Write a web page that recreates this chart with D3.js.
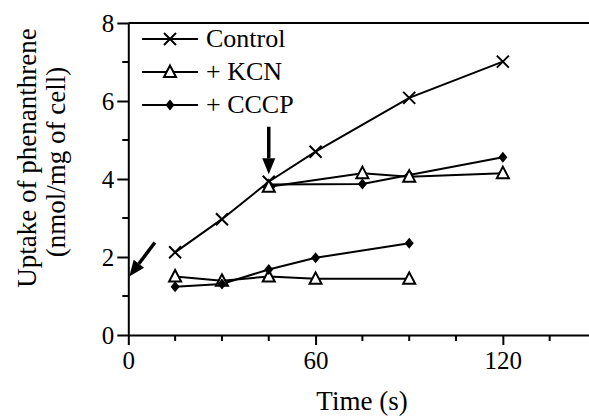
<!DOCTYPE html>
<html>
<head>
<meta charset="utf-8">
<script src="https://cdn.jsdelivr.net/npm/d3@7"></script>
<style>
  body { margin: 0; background: #fff; }
</style>
</head>
<body>
<script>
// data
var controlTime = [15, 30, 45, 60, 90, 120];
var controlUptake = [2.12, 2.97, 3.93, 4.70, 6.08, 7.01];

var kcnEarlyTime = [15, 30, 45, 60, 90];
var kcnEarlyUptake = [1.50, 1.39, 1.50, 1.44, 1.44];
var kcnLateTime = [45, 75, 90, 120];
var kcnLateUptake = [3.80, 4.15, 4.06, 4.15];

var cccpEarlyTime = [15, 30, 45, 60, 90];
var cccpEarlyUptake = [1.24, 1.31, 1.68, 1.98, 2.35];
var cccpLateTime = [45, 75, 90, 120];
var cccpLateUptake = [3.86, 3.87, 4.10, 4.56];

var xMajorTicks = [0, 60, 120];
var xMinorTicks = [15, 30, 45, 75, 90, 105, 135];
var yMajorTicks = [0, 2, 4, 6, 8];
var yMinorTicks = [1, 3, 5, 7];

var legendLabels = ["Control", "+ KCN", "+ CCCP"];

// arrows (time, uptake) tail -> tip
var arrows = [
    {x1: 45, y1: 5.34, x2: 45, y2: 4.12},
    {x1: 8.5, y1: 2.37, x2: 0.3, y2: 1.5}
];

var serif = "Liberation Serif";
var width = 589, height = 416;
var svg = d3.select("body").append("svg")
    .attr("width", width)
    .attr("height", height)
    .attr("font-family", serif);

var x = d3.scaleLinear().domain([0, 147.6]).range([128.3, 589]);
var y = d3.scaleLinear().domain([0, 8]).range([335, 23]);

var zip = function(ts, vs){
    return ts.map(function(t, i){ return {t: t, v: vs[i]}; });
};

// frame top line
svg.append("line")
    .attr("x1", x(0)).attr("x2", width)
    .attr("y1", y(8)).attr("y2", y(8))
    .style("stroke", "#000").style("stroke-width", 2);

// x axis
var xAxis = svg.append("g").attr("transform", "translate(0," + y(0) + ")");
xAxis.call(d3.axisBottom(x).tickValues(xMajorTicks).tickSize(10).tickSizeOuter(0).tickPadding(6));
svg.append("g").selectAll("line").data(xMinorTicks).enter().append("line")
    .attr("x1", function(d){ return x(d); }).attr("x2", function(d){ return x(d); })
    .attr("y1", y(0)).attr("y2", y(0) + 6)
    .style("stroke", "#000").style("stroke-width", 2);

// y axis
var yAxis = svg.append("g").attr("transform", "translate(" + x(0) + ",0)");
yAxis.call(d3.axisLeft(y).tickValues(yMajorTicks).tickSize(11).tickSizeOuter(0).tickPadding(3));
svg.append("g").selectAll("line").data(yMinorTicks).enter().append("line")
    .attr("x1", x(0) - 6).attr("x2", x(0))
    .attr("y1", function(d){ return y(d); }).attr("y2", function(d){ return y(d); })
    .style("stroke", "#000").style("stroke-width", 2);

svg.selectAll(".domain").style("stroke-width", 2);
svg.selectAll(".tick line").style("stroke-width", 2);
xAxis.attr("font-family", serif).attr("font-size", 25);
yAxis.attr("font-family", serif).attr("font-size", 25);
svg.selectAll(".tick text")
    .attr("font-family", serif)
    .attr("font-size", 25)
    .attr("fill", "#000");

// axis titles
svg.append("text")
    .attr("x", 362).attr("y", 410)
    .attr("text-anchor", "middle")
    .attr("font-family", serif)
    .attr("font-size", 27)
    .attr("fill", "#000")
    .text("Time (s)");

svg.append("text")
    .attr("transform", "translate(36,158) rotate(-90)")
    .attr("text-anchor", "middle")
    .attr("font-family", serif)
    .attr("font-size", 27)
    .attr("fill", "#000")
    .text("Uptake of phenanthrene");
svg.append("text")
    .attr("transform", "translate(65,162) rotate(-90)")
    .attr("text-anchor", "middle")
    .attr("font-family", serif)
    .attr("font-size", 27)
    .attr("fill", "#000")
    .text("(nmol/mg of cell)");

// series
var line = d3.line()
    .x(function(d){ return x(d.t); })
    .y(function(d){ return y(d.v); });

var series = [
    {data: zip(controlTime, controlUptake), mark: "x"},
    {data: zip(kcnEarlyTime, kcnEarlyUptake), mark: "tri"},
    {data: zip(cccpEarlyTime, cccpEarlyUptake), mark: "dia"},
    {data: zip(cccpLateTime, cccpLateUptake), mark: "dia"},
    {data: zip(kcnLateTime, kcnLateUptake), mark: "tri"}
];

series.forEach(function(s){
    svg.append("path")
        .attr("d", line(s.data))
        .style("fill", "none")
        .style("stroke", "#000")
        .style("stroke-width", 2);
});

function drawMark(g, kind){
    if(kind == "x"){
        g.append("path").attr("d", "M-6,-6L6,6M-6,6L6,-6")
            .style("stroke", "#000").style("stroke-width", 2).style("fill", "none");
    } else if(kind == "tri"){
        g.append("path").attr("d", "M0,-6.5L6,5L-6,5Z")
            .style("stroke", "#000").style("stroke-width", 2).style("fill", "#fff");
    } else {
        g.append("path").attr("d", "M0,-5.5L4.5,0L0,5.5L-4.5,0Z")
            .style("fill", "#000");
    }
}

series.forEach(function(s){
    s.data.forEach(function(d){
        var g = svg.append("g").attr("transform", "translate(" + x(d.t) + "," + y(d.v) + ")");
        drawMark(g, s.mark);
    });
});

// legend
var legendMarks = ["x", "tri", "dia"];
legendLabels.forEach(function(lbl, i){
    var cy = 39 + i * 33;
    svg.append("line")
        .attr("x1", 142).attr("x2", 198)
        .attr("y1", cy).attr("y2", cy)
        .style("stroke", "#000").style("stroke-width", 2);
    var g = svg.append("g").attr("transform", "translate(170," + cy + ")");
    drawMark(g, legendMarks[i]);
    svg.append("text")
        .attr("x", 206).attr("y", cy + 8)
        .attr("font-family", serif)
        .attr("font-size", 26)
        .attr("fill", "#000")
        .text(lbl);
});

// arrows
arrows.forEach(function(a){
    var x1 = x(a.x1), y1 = y(a.y1), x2 = x(a.x2), y2 = y(a.y2);
    var dx = x2 - x1, dy = y2 - y1;
    var len = Math.sqrt(dx*dx + dy*dy);
    var ux = dx/len, uy = dy/len;
    var headLen = 16, headW = 6.5;
    var bx = x2 - ux*headLen, by = y2 - uy*headLen;
    svg.append("line")
        .attr("x1", x1).attr("y1", y1).attr("x2", bx).attr("y2", by)
        .style("stroke", "#000").style("stroke-width", 3.5);
    svg.append("path")
        .attr("d", "M" + x2 + "," + y2 +
                   "L" + (bx - uy*headW) + "," + (by + ux*headW) +
                   "L" + (bx + uy*headW) + "," + (by - ux*headW) + "Z")
        .style("fill", "#000");
});
</script>
</body>
</html>
